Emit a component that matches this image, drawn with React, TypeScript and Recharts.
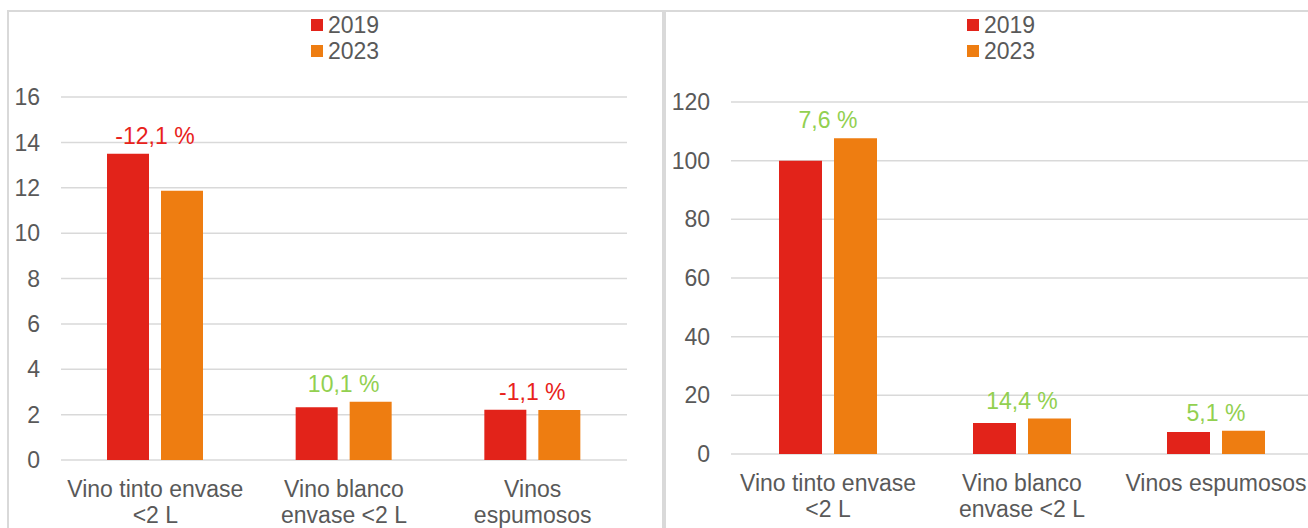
import React from "react";
import { BarChart, Bar, XAxis, YAxis, CartesianGrid, Legend, LabelList } from "recharts";

const categories = ["Vino tinto envase <2 L", "Vino blanco envase <2 L", "Vinos espumosos"];

const left2019 = [13.5, 2.33, 2.22];
const left2023 = [11.87, 2.57, 2.2];
const leftChange = ["-12,1 %", "10,1 %", "-1,1 %"];
const leftTicks = [0, 2, 4, 6, 8, 10, 12, 14, 16];
const leftTickLines = [
  ["Vino tinto envase", "<2 L"],
  ["Vino blanco", "envase <2 L"],
  ["Vinos", "espumosos"],
];

const right2019 = [100, 10.6, 7.5];
const right2023 = [107.6, 12.1, 7.9];
const rightChange = ["7,6 %", "14,4 %", "5,1 %"];
const rightTicks = [0, 20, 40, 60, 80, 100, 120];
const rightTickLines = [
  ["Vino tinto envase", "<2 L"],
  ["Vino blanco", "envase <2 L"],
  ["Vinos espumosos"],
];

const RED = "#E2231A";
const ORANGE = "#EE7D11";
const GREEN_TXT = "#92D050";
const RED_TXT = "#E8221B";
const GRAY_TXT = "#595959";
const GRID = "#D9D9D9";
const FONT = "'Liberation Sans', Arial, sans-serif";

type Row = { name: string; v2019: number; v2023: number };

const build = (a: number[], b: number[]): Row[] =>
  categories.map((name, i) => ({ name, v2019: a[i], v2023: b[i] }));

const leftData = build(left2019, left2023);
const rightData = build(right2019, right2023);

function LegendBox() {
  const items = [
    { label: "2019", color: RED },
    { label: "2023", color: ORANGE },
  ];
  return (
    <div style={{ fontFamily: FONT, fontSize: 23, color: GRAY_TXT }}>
      {items.map((it) => (
        <div key={it.label} style={{ display: "flex", alignItems: "center", height: 26, lineHeight: "26px" }}>
          <span style={{ width: 12, height: 12, background: it.color, marginRight: 5, display: "inline-block" }} />
          <span>{it.label}</span>
        </div>
      ))}
    </div>
  );
}

function makeTick(lines: string[][]) {
  return (props: any) => {
    const { x, y, index } = props;
    const ls = lines[index] || [];
    return (
      <text x={x} y={y} textAnchor="middle" fill={GRAY_TXT} fontSize={23} fontFamily={FONT}>
        {ls.map((l, i) => (
          <tspan key={i} x={x} dy={i === 0 ? 37 : 26}>
            {l}
          </tspan>
        ))}
      </text>
    );
  };
}

function makeChangeLabel(changes: string[], data: Row[], gap: number) {
  return (props: any) => {
    const { x, y, width, height, index } = props;
    const row = data[index];
    if (!row) return null;
    const bottom = Number(y) + Number(height);
    const scale = Number(height) / row.v2023;
    const redTop = bottom - row.v2019 * scale;
    const top = Math.min(Number(y), redTop);
    const cx = Number(x) - gap / 2;
    const txt = changes[index];
    return (
      <text
        x={cx}
        y={top - 10}
        textAnchor="middle"
        fill={txt.startsWith("-") ? RED_TXT : GREEN_TXT}
        fontSize={23}
        fontFamily={FONT}
      >
        {txt}
      </text>
    );
  };
}

function Panel(props: {
  data: Row[];
  ticks: number[];
  tickLines: string[][];
  changes: string[];
  width: number;
  yWidth: number;
  margin: { top: number; right: number; bottom: number; left: number };
  xHeight: number;
  barSize: number;
  gap: number;
  legendLeft: number;
}) {
  const { data, ticks, tickLines, changes, width, yWidth, margin, xHeight, barSize, gap, legendLeft } = props;
  return (
    <BarChart width={width} height={518} data={data} margin={margin} barSize={barSize} barGap={gap}>
      <CartesianGrid vertical={false} stroke={GRID} strokeWidth={1.5} />
      <XAxis
        dataKey="name"
        axisLine={false}
        tickLine={false}
        tickSize={0}
        tickMargin={0}
        height={xHeight}
        interval={0}
        tick={makeTick(tickLines)}
      />
      <YAxis
        width={yWidth}
        domain={[ticks[0], ticks[ticks.length - 1]]}
        ticks={ticks}
        axisLine={false}
        tickLine={false}
        tickSize={0}
        tickMargin={21}
        tick={{ fill: GRAY_TXT, fontSize: 23, fontFamily: FONT }}
      />
      <Legend
        layout="vertical"
        align="center"
        verticalAlign="middle"
        content={() => <LegendBox />}
        wrapperStyle={{ top: 2, left: legendLeft, width: 120, height: 54 }}
      />
      <Bar dataKey="v2019" name="2019" fill={RED} isAnimationActive={false} />
      <Bar dataKey="v2023" name="2023" fill={ORANGE} isAnimationActive={false}>
        <LabelList dataKey="v2023" content={makeChangeLabel(changes, data, gap)} />
      </Bar>
    </BarChart>
  );
}

export default function App() {
  return (
    <div style={{ position: "relative", width: 1308, height: 528, overflow: "hidden", background: "#fff" }}>
      <style>{`body{margin:0}`}</style>
      <div style={{ position: "absolute", left: 7, top: 10, width: 653, height: 600, border: `2px solid ${GRID}` }} />
      <div style={{ position: "absolute", left: 664, top: 10, width: 700, height: 600, border: `2px solid ${GRID}` }} />
      <div style={{ position: "absolute", left: 8, top: 10 }}>
        <Panel
          data={leftData}
          ticks={leftTicks}
          tickLines={leftTickLines}
          changes={leftChange}
          width={654}
          yWidth={53}
          margin={{ top: 87, right: 35, bottom: 0, left: 0 }}
          xHeight={68}
          barSize={42}
          gap={12}
          legendLeft={303}
        />
      </div>
      <div style={{ position: "absolute", left: 664, top: 10 }}>
        <Panel
          data={rightData}
          ticks={rightTicks}
          tickLines={rightTickLines}
          changes={rightChange}
          width={680}
          yWidth={67}
          margin={{ top: 92, right: 31, bottom: 0, left: 0 }}
          xHeight={74}
          barSize={43}
          gap={12}
          legendLeft={303}
        />
      </div>
    </div>
  );
}
